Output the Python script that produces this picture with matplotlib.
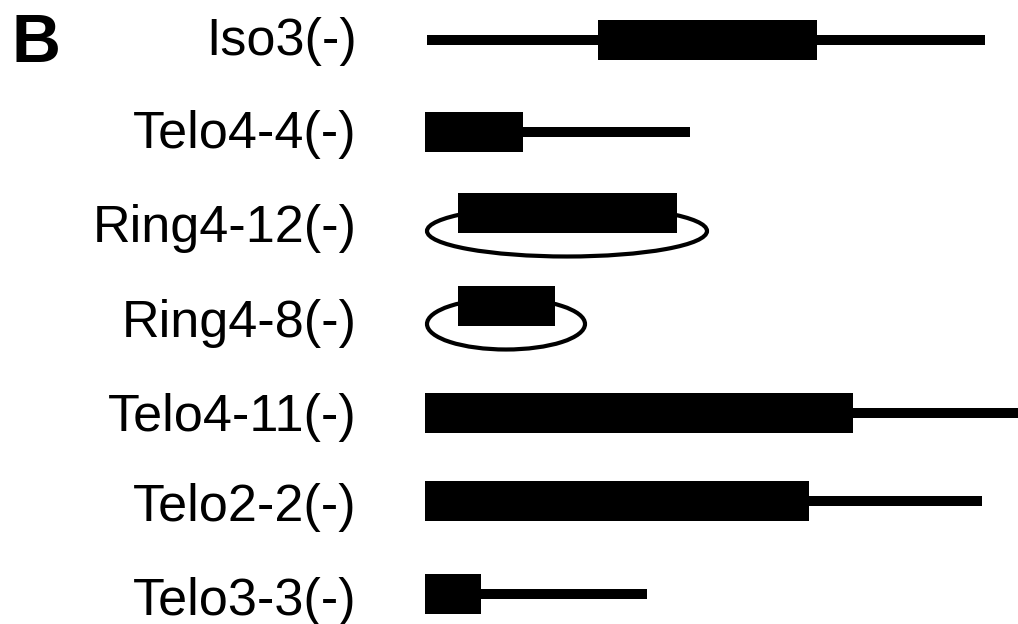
import matplotlib
matplotlib.use("Agg")
import matplotlib.pyplot as plt
from matplotlib.patches import Ellipse

plt.rcParams['font.family'] = ['Liberation Sans', 'DejaVu Sans']

# constructs, top to bottom
names = ['Iso3(-)', 'Telo4-4(-)', 'Ring4-12(-)', 'Ring4-8(-)',
         'Telo4-11(-)', 'Telo2-2(-)', 'Telo3-3(-)']
# thin line (full extent) and thick block, in map units
line_start = [2, 0, None, None, 0, 0, 0]
line_end = [560, 265, None, None, 600, 557, 222]
block_start = [173, 0, 33, 33, 0, 0, 0]
block_end = [392, 98, 252, 130, 428, 384, 56]
# ring constructs: circle drawn as an ellipse under the block
ring_start = [None, None, 2, 2, None, None, None]
ring_end = [None, None, 282, 160, None, None, None]

# layout (pixels)
x0 = 425
row_y = [40, 132, 213, 306, 413, 501, 594]
label_base = [55, 148, 242, 337, 431, 521, 615]

fig = plt.figure(figsize=(10.18, 6.24), dpi=100)
ax = fig.add_axes([0, 0, 1, 1])
ax.set_xlim(0, 1018)
ax.set_ylim(624, 0)
ax.axis('off')

for i, name in enumerate(names):
    y = row_y[i]
    if ring_start[i] is not None:
        w = ring_end[i] - ring_start[i]
        e = Ellipse((x0 + ring_start[i] + w / 2, y + 18), w, 51,
                    fill=False, edgecolor='black', linewidth=3.0, zorder=1)
        ax.add_patch(e)
    if line_start[i] is not None:
        ax.barh(y, line_end[i] - line_start[i], left=x0 + line_start[i],
                height=10, color='black', zorder=2)
    ax.barh(y, block_end[i] - block_start[i], left=x0 + block_start[i],
            height=40, color='black', zorder=3)
    ax.text(357, label_base[i], name, ha='right', va='baseline',
            fontsize=37.5, color='black')

ax.text(12, 62, 'B', ha='left', va='baseline', fontsize=49,
        fontweight='bold', color='black')

fig.savefig('out.png', dpi=100)
